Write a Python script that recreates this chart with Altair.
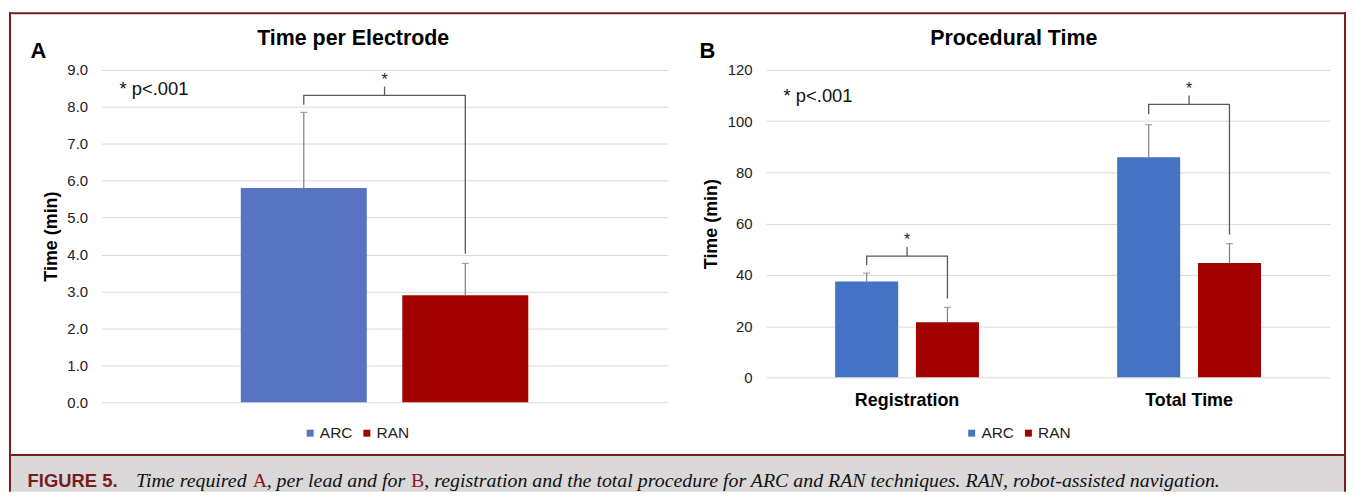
import altair as alt
import pandas as pd

FONT = "Liberation Sans"
SERIF = "Liberation Serif"
FRAME = "#7A1D1D"

series = ["ARC", "RAN"]

# ---- Panel A: time per electrode ----
a_category = ["Time per Electrode"]
a_mean = [5.8, 2.9]
a_upper = [7.85, 3.76]
a_leg_bottom = [8.06, 4.02]   # bracket legs (ARC side, RAN side)
a_bracket_level = [8.31]
a_tick_top = [8.55]
a_ticks = [0, 1, 2, 3, 4, 5, 6, 7, 8, 9]
a_colors = ["#5873C1", "#A30000"]

# ---- Panel B: procedural time ----
b_categories = ["Registration", "Total Time"]
b_arc_mean = [37.4, 85.9]
b_ran_mean = [21.5, 44.6]
b_arc_upper = [40.7, 98.6]
b_ran_upper = [27.3, 52.2]
b_leg_bottom_arc = [43.8, 102.7]
b_leg_bottom_ran = [30.8, 55.8]
b_bracket_level = [47.3, 106.6]
b_tick_top = [50.9, 110.0]
b_ticks = [0, 20, 40, 60, 80, 100, 120]
b_colors = ["#4472C4", "#A30000"]

caption_label = "FIGURE 5."
caption_parts = ["Time required", "A", ", per lead and for", "B",
                 ", registration and the total procedure for ARC and RAN techniques. RAN, robot-assisted navigation."]


def bars_df(cats, means_by_series, upper_by_series):
    rows = []
    for i, c in enumerate(cats):
        for s, m, u in zip(series, means_by_series, upper_by_series):
            rows.append({"cat": c, "series": s, "mean": m[i], "upper": u[i]})
    return pd.DataFrame(rows)


def bracket_df(cats, leg_arc, leg_ran, level):
    rows = []
    for i, c in enumerate(cats):
        rows += [
            {"cat": c, "series": "ARC", "y": leg_arc[i], "order": 0},
            {"cat": c, "series": "ARC", "y": level[i], "order": 1},
            {"cat": c, "series": "RAN", "y": level[i], "order": 2},
            {"cat": c, "series": "RAN", "y": leg_ran[i], "order": 3},
        ]
    return pd.DataFrame(rows)


def tick_df(cats, level, top):
    return pd.DataFrame({"cat": cats, "level": level, "top": top})


dummy = pd.DataFrame({"k": [0]})


def deco_text(text, x, y, size, weight="normal", color="#000", align="center", style="normal", font=FONT):
    return alt.Chart(dummy).mark_text(
        text=text, fontSize=size, fontWeight=weight, color=color, align=align,
        baseline="alphabetic", font=font, fontStyle=style
    ).encode(x=alt.value(x), y=alt.value(y))


def panel(cats, bdf, brdf, tdf, colors, domain, ticks, fmt, width, height,
          xscale, x_axis, title, letter, title_x, letter_x, p_x, p_y, y_title_x, legend_x, legend_y):
    xenc = alt.X("cat:N", sort=cats, scale=xscale, axis=x_axis, title=None)
    xoff = alt.XOffset("series:N", sort=series, scale=alt.Scale(paddingInner=0.22, paddingOuter=0))
    yscale = alt.Scale(domain=domain, nice=False, zero=True)
    yaxis = alt.Axis(values=ticks, format=fmt, grid=True, gridColor="#D9D9D9", gridWidth=1,
                     domain=False, ticks=False, tickSize=0, labelPadding=14,
                     labelFont=FONT, labelFontSize=15, labelColor="#222",
                     title="Time (min)", titleFont=FONT, titleFontSize=18, titleFontWeight="bold",
                     titleColor="#000", titleX=y_title_x, titleY=height / 2, titleAngle=270,
                     titleBaseline="middle", titleAlign="center")

    def yenc(field):
        return alt.Y(field, scale=yscale, axis=yaxis)

    bars = alt.Chart(bdf).mark_bar().encode(
        x=xenc, xOffset=xoff, y=yenc("mean:Q"),
        color=alt.Color("series:N", sort=series,
                        scale=alt.Scale(domain=series, range=colors),
                        legend=alt.Legend(orient="none", legendX=legend_x, legendY=legend_y,
                                          direction="horizontal", title=None, symbolType="square",
                                          symbolSize=49, symbolStrokeWidth=0, labelFont=FONT,
                                          labelFontSize=15.5, labelColor="#222", labelOffset=2,
                                          columnPadding=6, padding=0))
    )
    err = alt.Chart(bdf).mark_rule(color="#7F7F7F", strokeWidth=1.2).encode(
        x=xenc, xOffset=xoff, y=yenc("mean:Q"), y2="upper:Q")
    cap = alt.Chart(bdf).mark_tick(color="#7F7F7F", thickness=1.2, size=7).encode(
        x=xenc, xOffset=xoff, y=yenc("upper:Q"))
    bracket = alt.Chart(brdf).mark_line(color="#595959", strokeWidth=1.3).encode(
        x=xenc, xOffset=xoff, y=yenc("y:Q"), detail="cat:N", order="order:Q")
    ctick = alt.Chart(tdf).mark_rule(color="#595959", strokeWidth=1.3).encode(
        x=xenc, y=yenc("level:Q"), y2="top:Q")
    star = alt.Chart(tdf).mark_text(text="*", fontSize=16, dy=-2, baseline="alphabetic",
                                    font=FONT, color="#222").encode(x=xenc, y=yenc("top:Q"))
    texts = [
        deco_text(title, title_x, -25, 21.5, weight="bold"),
        deco_text(letter, letter_x, -12, 22, weight="bold"),
        deco_text("* p<.001", p_x, p_y, 18.5, align="left", color="#111"),
    ]
    return alt.layer(bars, err, cap, bracket, ctick, star, *texts).properties(width=width, height=height)


dfA = bars_df(a_category, [[a_mean[0]], [a_mean[1]]], [[a_upper[0]], [a_upper[1]]])
brA = bracket_df(a_category, [a_leg_bottom[0]], [a_leg_bottom[1]], a_bracket_level)
tkA = tick_df(a_category, a_bracket_level, a_tick_top)

dfB = bars_df(b_categories, [b_arc_mean, b_ran_mean], [b_arc_upper, b_ran_upper])
brB = bracket_df(b_categories, b_leg_bottom_arc, b_leg_bottom_ran, b_bracket_level)
tkB = tick_df(b_categories, b_bracket_level, b_tick_top)

A = panel(a_category, dfA, brA, tkA, a_colors, [0, 9], a_ticks, ".1f", 569, 334,
          alt.Scale(paddingInner=0, paddingOuter=0.4844), None,
          "Time per Electrode", "A", 253, -63.5, 18, 25.3, -50, 202, 357)

B = panel(b_categories, dfB, brB, tkB, b_colors, [0, 120], b_ticks, "d", 567, 309,
          alt.Scale(paddingInner=0.49, paddingOuter=0.245),
          alt.Axis(labelAngle=0, labelFont=FONT, labelFontSize=18, labelFontWeight="bold",
                   labelColor="#000", ticks=False, tickSize=0, domain=False, labelPadding=14,
                   grid=False, title=None),
          "Procedural Time", "B", 249, -59, 17.6, 32, -54.5, 199, 357)

# frame & caption decorations (relative to panel A plot origin)
gray = alt.Chart(dummy).mark_rect(color="#DAD8D9").encode(
    x=alt.value(-91), x2=alt.value(1249), y=alt.value(388), y2=alt.value(424))
top_line = alt.Chart(dummy).mark_rule(color=FRAME, strokeWidth=2).encode(
    x=alt.value(-93), x2=alt.value(1251), y=alt.value(-57))
mid_line = alt.Chart(dummy).mark_rule(color=FRAME, strokeWidth=2).encode(
    x=alt.value(-93), x2=alt.value(1251), y=alt.value(387))
left_line = alt.Chart(dummy).mark_rule(color=FRAME, strokeWidth=2).encode(
    x=alt.value(-92), y=alt.value(-58), y2=alt.value(424))
right_line = alt.Chart(dummy).mark_rule(color=FRAME, strokeWidth=2).encode(
    x=alt.value(1250), y=alt.value(-58), y2=alt.value(424))

cap_y = 419
caption = [
    deco_text(caption_label, -74.3, cap_y, 18.5, weight="bold", color="#7A1C1C", align="left"),
    deco_text(caption_parts[0], 34.7, cap_y, 20, align="left", style="italic", font=SERIF, color="#111"),
    deco_text(caption_parts[1], 152, cap_y, 20, align="left", font=SERIF, color="#8B1A1A"),
    deco_text(caption_parts[2], 166, cap_y, 20, align="left", style="italic", font=SERIF, color="#111"),
    deco_text(caption_parts[3], 311, cap_y, 20, align="left", font=SERIF, color="#8B1A1A"),
    deco_text(caption_parts[4], 324.5, cap_y, 20, align="left", style="italic", font=SERIF, color="#111"),
]

A_full = alt.layer(gray, A, top_line, mid_line, left_line, right_line, *caption)

chart = alt.hconcat(A_full, B, spacing=99, bounds="flush").resolve_scale(
    color="independent", x="independent", y="independent", xOffset="independent"
).resolve_legend(color="independent").properties(
    padding={"left": 0, "top": 2, "right": 0, "bottom": 0}
).configure_view(stroke=None)

chart.save("out.html", embed_options={"renderer": "svg", "actions": False})
